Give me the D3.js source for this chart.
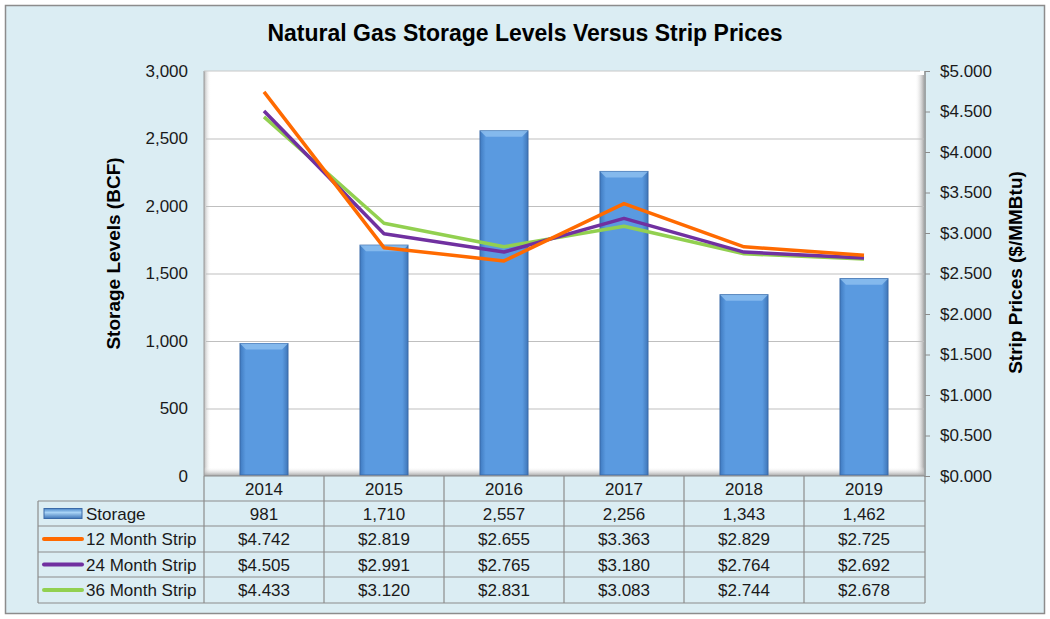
<!DOCTYPE html>
<html lang="en">
<head>
  <meta charset="UTF-8">
  <title>Natural Gas Storage Levels Versus Strip Prices</title>
  <script src="https://d3js.org/d3.v7.min.js"></script>
  <style>
    body { margin: 0; background: #fff; font-family: "Liberation Sans", Arial, sans-serif; }
    svg { display: block; }
  </style>
</head>
<body>
  <div id="chart"></div>
  <script>
    // data
    const years = ["2014", "2015", "2016", "2017", "2018", "2019"];
    const storage = [981, 1710, 2557, 2256, 1343, 1462];
    const strip12 = [4.742, 2.819, 2.655, 3.363, 2.829, 2.725];
    const strip24 = [4.505, 2.991, 2.765, 3.180, 2.764, 2.692];
    const strip36 = [4.433, 3.120, 2.831, 3.083, 2.744, 2.678];
    const leftTicks = [0, 500, 1000, 1500, 2000, 2500, 3000];
    const rightTicks = [0, 0.5, 1, 1.5, 2, 2.5, 3, 3.5, 4, 4.5, 5];

    const series = [
      { name: "12 Month Strip", values: strip12, color: "#FF6A00" },
      { name: "24 Month Strip", values: strip24, color: "#7030A0" },
      { name: "36 Month Strip", values: strip36, color: "#92D050" }
    ];

    const width = 1050, height = 619;
    const plot = { left: 204, right: 924, top: 71, bottom: 476 };
    const fontSize = "17px";

    const svg = d3.select("#chart").append("svg")
      .attr("width", width)
      .attr("height", height);

    const defs = svg.append("defs");

    // bar bevel gradient
    const barGrad = defs.append("linearGradient").attr("id", "barGrad")
      .attr("x1", "0%").attr("x2", "100%").attr("y1", "0%").attr("y2", "0%");
    barGrad.append("stop").attr("offset", "0%").attr("stop-color", "#3F7AC0");
    barGrad.append("stop").attr("offset", "12%").attr("stop-color", "#5A9AE0");
    barGrad.append("stop").attr("offset", "88%").attr("stop-color", "#5A9AE0");
    barGrad.append("stop").attr("offset", "100%").attr("stop-color", "#3F76B8");

    const keyGrad = defs.append("linearGradient").attr("id", "keyGrad")
      .attr("x1", "0%").attr("x2", "0%").attr("y1", "0%").attr("y2", "100%");
    keyGrad.append("stop").attr("offset", "0%").attr("stop-color", "#4A86C8");
    keyGrad.append("stop").attr("offset", "40%").attr("stop-color", "#A9D3F5");
    keyGrad.append("stop").attr("offset", "100%").attr("stop-color", "#3F76B8");

    const leftWall = defs.append("linearGradient").attr("id", "leftWall")
      .attr("x1", "0%").attr("x2", "100%");
    leftWall.append("stop").attr("offset", "0%").attr("stop-color", "#B8B8B8");
    leftWall.append("stop").attr("offset", "100%").attr("stop-color", "#FFFFFF").attr("stop-opacity", 0);

    const rightWall = defs.append("linearGradient").attr("id", "rightWall")
      .attr("x1", "100%").attr("x2", "0%");
    rightWall.append("stop").attr("offset", "0%").attr("stop-color", "#A8A8A8");
    rightWall.append("stop").attr("offset", "100%").attr("stop-color", "#FFFFFF").attr("stop-opacity", 0);

    const floorGrad = defs.append("linearGradient").attr("id", "floorGrad")
      .attr("x1", "0%").attr("x2", "0%").attr("y1", "0%").attr("y2", "100%");
    floorGrad.append("stop").attr("offset", "0%").attr("stop-color", "#FFFFFF").attr("stop-opacity", 0);
    floorGrad.append("stop").attr("offset", "100%").attr("stop-color", "#A0A0A0");

    // background + frame
    svg.append("rect")
      .attr("x", 5.5).attr("y", 5.5)
      .attr("width", 1039).attr("height", 608)
      .attr("fill", "#DBEDF3")
      .attr("stroke", "#8C8C8C").attr("stroke-width", 1.5);

    svg.append("text")
      .attr("x", 525).attr("y", 41)
      .attr("text-anchor", "middle")
      .style("font-weight", "bold").style("font-size", "23px")
      .attr("fill", "#000")
      .text("Natural Gas Storage Levels Versus Strip Prices");

    // scales
    const x = d3.scaleBand().domain(years)
      .range([plot.left, plot.right]).paddingInner(0.6).paddingOuter(0.3);
    const xCol = d3.scaleBand().domain(years).range([plot.left, plot.right]);
    const yL = d3.scaleLinear().domain([0, 3000]).range([plot.bottom, plot.top]);
    const yR = d3.scaleLinear().domain([0, 5]).range([plot.bottom, plot.top]);

    // plot area with 3d walls
    svg.append("rect")
      .attr("x", plot.left).attr("y", plot.top)
      .attr("width", plot.right - plot.left).attr("height", plot.bottom - plot.top)
      .attr("fill", "#FFFFFF");
    svg.append("rect")
      .attr("x", plot.left).attr("y", plot.top)
      .attr("width", 7).attr("height", plot.bottom - plot.top)
      .attr("fill", "url(#leftWall)");
    svg.append("rect")
      .attr("x", plot.right - 9).attr("y", plot.top + 4)
      .attr("width", 9).attr("height", plot.bottom - plot.top - 4)
      .attr("fill", "url(#rightWall)");
    svg.append("rect")
      .attr("x", plot.left).attr("y", plot.bottom - 9)
      .attr("width", plot.right - plot.left).attr("height", 9)
      .attr("fill", "url(#floorGrad)");
    svg.append("line")
      .attr("x1", plot.left).attr("x2", plot.left)
      .attr("y1", plot.top).attr("y2", plot.bottom)
      .attr("stroke", "#9A9A9A");
    svg.append("line")
      .attr("x1", plot.left).attr("x2", plot.right - 4)
      .attr("y1", plot.top).attr("y2", plot.top)
      .attr("stroke", "#C8C8C8");

    // gridlines
    svg.append("g")
      .selectAll("line")
      .data(leftTicks.filter(d => d > 0 && d < 3000))
      .enter().append("line")
      .attr("x1", plot.left + 2).attr("x2", plot.right)
      .attr("y1", d => yL(d) + 0.5).attr("y2", d => yL(d) + 0.5)
      .attr("stroke", "#BFBFBF").attr("stroke-width", 1.2);

    // left axis labels
    const leftAxis = d3.axisLeft(yL).tickValues(leftTicks)
      .tickFormat(d3.format(",")).tickSize(0).tickPadding(16);
    const gL = svg.append("g").attr("transform", `translate(${plot.left},0)`).call(leftAxis);
    gL.select(".domain").remove();
    gL.selectAll("text")
      .style("font-family", "'Liberation Sans', Arial, sans-serif")
      .style("font-size", fontSize).attr("fill", "#1A1A1A");

    // right axis
    const rightAxis = d3.axisRight(yR).tickValues(rightTicks)
      .tickFormat(d => "$" + d3.format(".3f")(d)).tickSize(5).tickPadding(10);
    const gR = svg.append("g").attr("transform", `translate(${plot.right + 1},0)`).call(rightAxis);
    gR.select(".domain").attr("stroke", "#8C8C8C").attr("stroke-width", 1.5)
      .attr("d", `M0,${plot.top}V${plot.bottom + 1}`);
    gR.selectAll(".tick line").attr("stroke", "#8C8C8C");
    gR.selectAll("text")
      .style("font-family", "'Liberation Sans', Arial, sans-serif")
      .style("font-size", fontSize).attr("fill", "#1A1A1A");

    // axis titles
    svg.append("text")
      .attr("transform", `translate(120,${(plot.top + plot.bottom) / 2 - 20}) rotate(-90)`)
      .attr("text-anchor", "middle")
      .style("font-weight", "bold").style("font-size", "19px")
      .text("Storage Levels (BCF)");
    svg.append("text")
      .attr("transform", `translate(1022,${(plot.top + plot.bottom) / 2 - 1}) rotate(-90)`)
      .attr("text-anchor", "middle")
      .style("font-weight", "bold").style("font-size", "19px")
      .text("Strip Prices ($/MMBtu)");

    // bars
    const bars = svg.append("g").selectAll("g")
      .data(storage)
      .enter().append("g");
    bars.append("rect")
      .attr("x", (d, i) => x(years[i]))
      .attr("y", d => yL(d))
      .attr("width", x.bandwidth())
      .attr("height", d => plot.bottom - 1 - yL(d))
      .attr("fill", "url(#barGrad)")
      .attr("stroke", "#3A6AA8").attr("stroke-width", 1);
    // top bevel
    bars.append("path")
      .attr("d", (d, i) => {
        const x0 = x(years[i]), x1 = x0 + x.bandwidth(), y0 = yL(d);
        return `M${x0},${y0}L${x1},${y0}L${x1 - 6},${y0 + 6}L${x0 + 6},${y0 + 6}Z`;
      })
      .attr("fill", "#8EC0F0").attr("opacity", 0.8);

    // lines
    const line = d3.line()
      .x((d, i) => xCol(years[i]) + xCol.bandwidth() / 2)
      .y(d => yR(d));
    svg.append("g").selectAll("path")
      .data(series.slice().reverse())
      .enter().append("path")
      .attr("d", d => line(d.values))
      .attr("fill", "none")
      .attr("stroke", d => d.color)
      .attr("stroke-width", 3.5)
      .attr("stroke-linejoin", "round");

    // data table
    const rowTop = [476, 501, 526, 552, 577];
    const rowBottom = 603;
    const tableLeft = 38;
    const table = svg.append("g");

    // horizontal lines
    table.append("line")
      .attr("x1", plot.left).attr("x2", plot.right + 1)
      .attr("y1", rowTop[0]).attr("y2", rowTop[0])
      .attr("stroke", "#8C8C8C").attr("stroke-width", 1.2);
    table.selectAll("line.h")
      .data(rowTop.slice(1).concat([rowBottom]))
      .enter().append("line").attr("class", "h")
      .attr("x1", tableLeft).attr("x2", plot.right + 1)
      .attr("y1", d => d).attr("y2", d => d)
      .attr("stroke", "#8C8C8C").attr("stroke-width", 1.2);
    // vertical lines
    table.selectAll("line.v")
      .data(years.map(y => xCol(y)).concat([plot.right + 1]))
      .enter().append("line").attr("class", "v")
      .attr("x1", d => d).attr("x2", d => d)
      .attr("y1", rowTop[0]).attr("y2", rowBottom)
      .attr("stroke", "#8C8C8C").attr("stroke-width", 1.2);
    table.append("line")
      .attr("x1", tableLeft).attr("x2", tableLeft)
      .attr("y1", rowTop[1]).attr("y2", rowBottom)
      .attr("stroke", "#8C8C8C").attr("stroke-width", 1.2);

    const cellText = (yMid, texts) => {
      table.append("g").selectAll("text")
        .data(texts).enter().append("text")
        .attr("x", (d, i) => xCol(years[i]) + xCol.bandwidth() / 2)
        .attr("y", yMid + 6)
        .attr("text-anchor", "middle")
        .style("font-size", fontSize).attr("fill", "#1A1A1A")
        .text(d => d);
    };
    const mid = i => ((i < 4 ? rowTop[i + 1] : rowBottom) + rowTop[i]) / 2;

    cellText(mid(0), years);
    cellText(mid(1), storage.map(d3.format(",")));
    series.forEach((s, k) => cellText(mid(k + 2), s.values.map(v => "$" + d3.format(".3f")(v))));

    // legend keys
    table.append("rect")
      .attr("x", 44).attr("y", mid(1) - 5)
      .attr("width", 38).attr("height", 10)
      .attr("fill", "url(#keyGrad)").attr("stroke", "#3A6AA8");
    table.append("text")
      .attr("x", 86).attr("y", mid(1) + 6)
      .style("font-size", fontSize).attr("fill", "#1A1A1A")
      .text("Storage");
    series.forEach((s, k) => {
      const ym = mid(k + 2);
      table.append("line")
        .attr("x1", 44).attr("x2", 82).attr("y1", ym).attr("y2", ym)
        .attr("stroke", s.color).attr("stroke-width", 4).attr("stroke-linecap", "round");
      table.append("text")
        .attr("x", 86).attr("y", ym + 6)
        .style("font-size", fontSize).attr("fill", "#1A1A1A")
        .text(s.name);
    });
  </script>
</body>
</html>
